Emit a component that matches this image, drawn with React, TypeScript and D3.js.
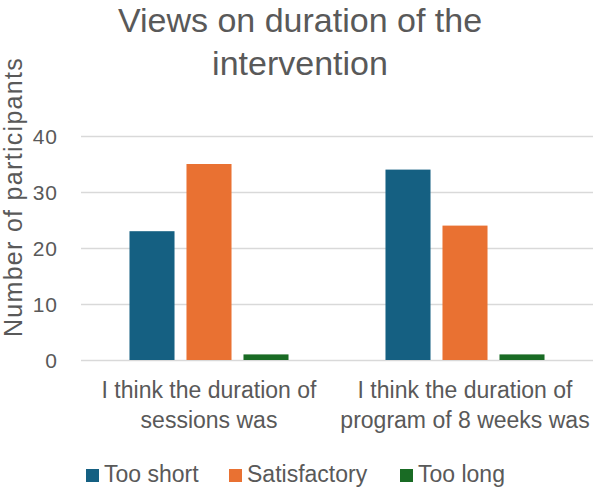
import { useRef, useEffect } from 'react';
import * as d3 from 'd3';

const categories = [
  ['I think the duration of', 'sessions was'],
  ['I think the duration of', 'program of 8 weeks was'],
];
const seriesNames = ['Too short', 'Satisfactory', 'Too long'];
const seriesColors = ['#156082', '#E97132', '#196B24'];
const tooShort = [23, 34];
const satisfactory = [35, 24];
const tooLong = [1, 1];
const yTicks = [0, 10, 20, 30, 40];

export default function App() {
  const svgRef = useRef<SVGSVGElement>(null);
  const width = 597;
  const height = 490;
  const margin = { top: 136, right: 4, bottom: 130, left: 81 };
  const innerW = width - margin.left - margin.right;
  const innerH = height - margin.top - margin.bottom;

  useEffect(() => {
    if (!svgRef.current) return;
    const svg = d3.select(svgRef.current);
    svg.selectAll('*').remove();
    const font = "'Liberation Sans', Arial, sans-serif";
    const textColor = '#595959';

    const values = [tooShort, satisfactory, tooLong];
    const x0 = d3.scaleBand<number>().domain(categories.map((_, i) => i)).range([0, innerW]);
    const groupW = x0.bandwidth();
    const innerRange = 171;
    const x1 = d3.scaleBand<number>()
      .domain(seriesNames.map((_, i) => i))
      .range([(groupW - innerRange) / 2, (groupW + innerRange) / 2])
      .paddingInner(0.21)
      .paddingOuter(0.105);
    const y = d3.scaleLinear().domain([0, 40]).range([innerH, 0]);

    // Title
    svg.append('g')
      .selectAll('text')
      .data(['Views on duration of the', 'intervention'])
      .join('text')
      .attr('x', 300)
      .attr('y', (_, i) => 32 + i * 43)
      .attr('text-anchor', 'middle')
      .attr('font-family', font)
      .attr('font-size', 34)
      .attr('fill', textColor)
      .text((d) => d);

    const g = svg.append('g').attr('transform', `translate(${margin.left},${margin.top})`);

    // Grid
    g.append('g')
      .call(d3.axisLeft(y).tickValues(yTicks).tickSize(-innerW).tickFormat(() => ''))
      .call((g) => g.selectAll('line').attr('stroke', '#d9d9d9').attr('stroke-width', 1.3))
      .call((g) => g.select('.domain').remove());

    // Y tick labels
    g.append('g')
      .selectAll('text')
      .data(yTicks)
      .join('text')
      .attr('x', -23)
      .attr('y', (d) => y(d))
      .attr('dy', '0.36em')
      .attr('text-anchor', 'end')
      .attr('font-family', font)
      .attr('font-size', 21)
      .attr('letter-spacing', 1)
      .attr('fill', textColor)
      .text((d) => d);

    // Y axis title
    svg.append('text')
      .attr('transform', 'translate(22,197) rotate(-90)')
      .attr('text-anchor', 'middle')
      .attr('font-family', font)
      .attr('font-size', 25)
      .attr('letter-spacing', 1.3)
      .attr('fill', textColor)
      .text('Number of participants');

    // Bars
    values.forEach((vals, s) => {
      g.append('g')
        .selectAll('rect')
        .data(vals)
        .join('rect')
        .attr('x', (_, i) => (x0(i) ?? 0) + (x1(s) ?? 0))
        .attr('y', (d) => y(d))
        .attr('width', x1.bandwidth())
        .attr('height', (d) => innerH - y(d))
        .attr('fill', seriesColors[s]);
    });

    // Category labels
    categories.forEach((lines, i) => {
      g.append('g')
        .selectAll('text')
        .data(lines)
        .join('text')
        .attr('x', (x0(i) ?? 0) + groupW / 2)
        .attr('y', (_, j) => innerH + 38 + j * 30)
        .attr('text-anchor', 'middle')
        .attr('font-family', font)
        .attr('font-size', 23)
        .attr('fill', textColor)
        .text((d) => d);
    });

    // Legend
    const legendX = [86, 229, 400];
    const legend = svg.append('g');
    seriesNames.forEach((name, s) => {
      legend.append('rect')
        .attr('x', legendX[s])
        .attr('y', 469)
        .attr('width', 13)
        .attr('height', 13)
        .attr('fill', seriesColors[s]);
      legend.append('text')
        .attr('x', legendX[s] + 18)
        .attr('y', 482)
        .attr('font-family', font)
        .attr('font-size', 23)
        .attr('fill', textColor)
        .text(name);
    });
  }, []);

  return (
    <svg
      ref={svgRef}
      width={width}
      height={height}
      style={{ position: 'absolute', left: 0, top: 0, display: 'block', background: '#fff' }}
    />
  );
}
